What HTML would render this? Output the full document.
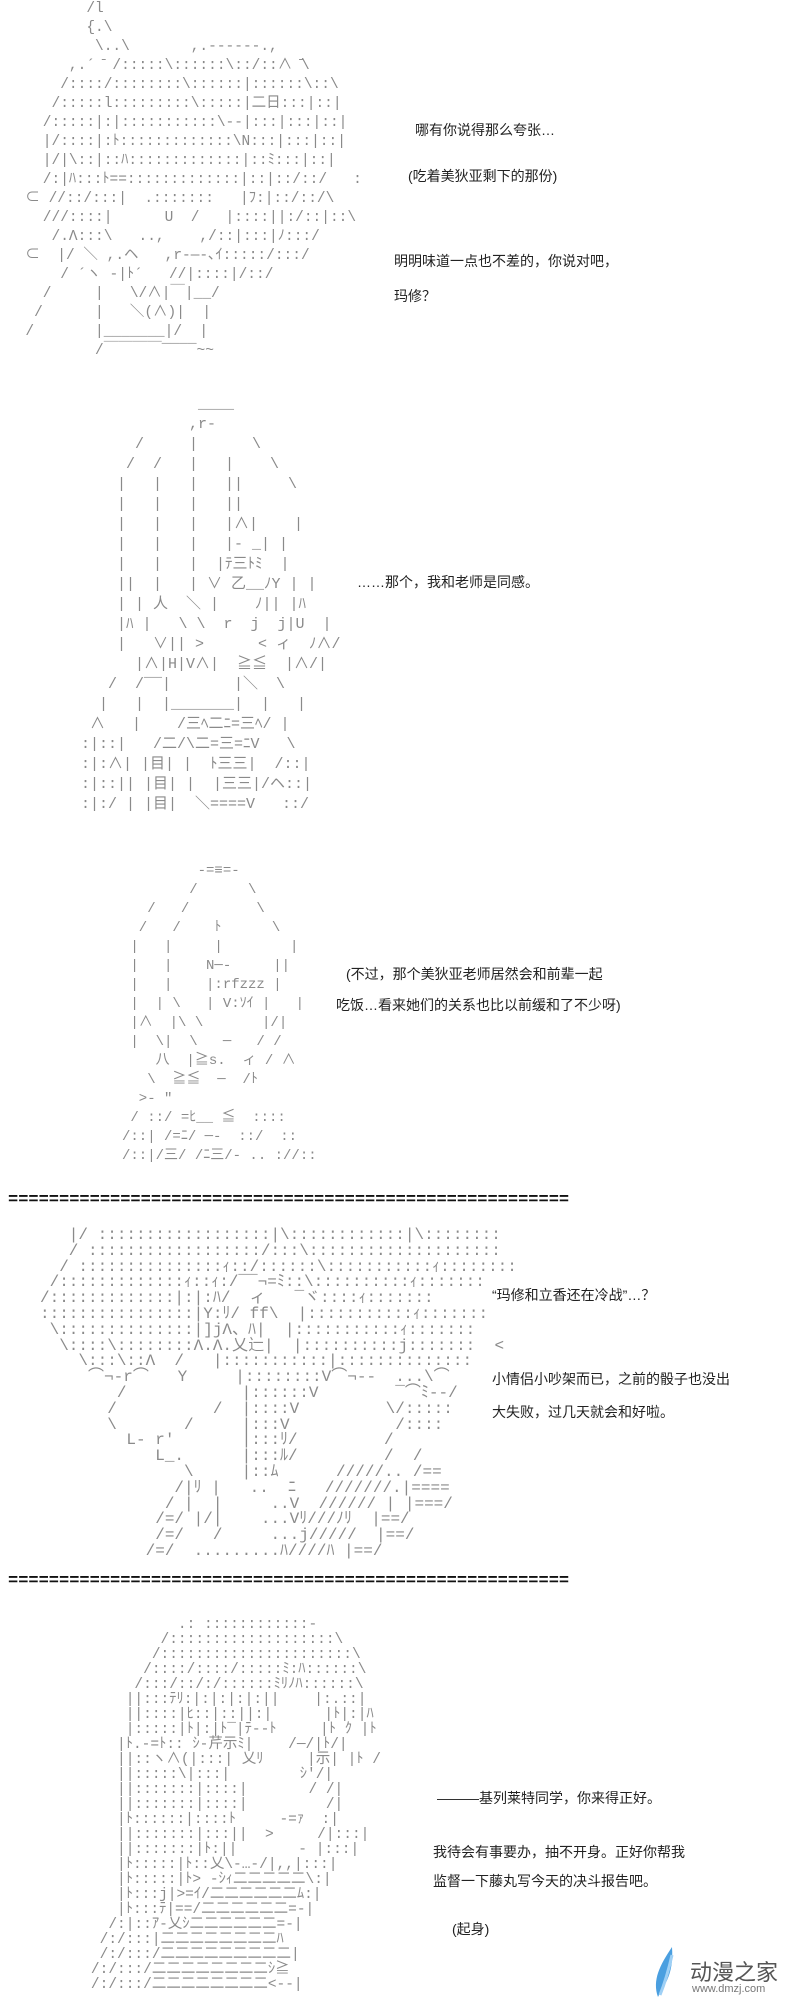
<!DOCTYPE html>
<html><head><meta charset="utf-8">
<style>
body{margin:0;width:800px;height:2000px;background:#fff;position:relative;overflow:hidden;font-family:"Liberation Sans","Noto Sans CJK SC",sans-serif}
.t{position:absolute;font-size:14px;color:#222;white-space:nowrap}
pre{position:absolute;margin:0;font-family:"Liberation Mono","Noto Sans CJK SC",monospace;font-size:13px;line-height:16px;color:#8a8a8a}
.sep{position:absolute;left:8px;font-family:"Liberation Mono",monospace;font-size:17px;font-weight:bold;color:#111;letter-spacing:0px;white-space:nowrap}
</style></head><body>

<pre style="left:8px;top:0;line-height:19px;font-size:14.5px">         /l
         {.\
          \..\       ,.------.,
       ,.´ ̄ /:::::\::::::\::/::∧ ̄\
      /::::/::::::::\::::::|::::::\::\
     /:::::l:::::::::\:::::|二日:::|::|
    /:::::|:|:::::::::::\--|:::|:::|::|
    |/::::|:ﾄ:::::::::::::\N:::|:::|::|
    |/|\::|::ﾊ:::::::::::::|::ﾐ:::|::|
    /:|ﾊ:::ﾄ==:::::::::::::|::|::/::/   :
  ⊂ //::/:::|  .:::::::   |ﾌ:|::/::/\
    ///::::|      U  /   |::::||:/::|::\
     /.Λ:::\   ..,    ,/::|:::|ﾉ:::/
  ⊂  |/ ＼ ,.ヘ   ,r‐―‐､ｲ:::::/:::/
      / ´ヽ ‐|ﾄ´   //|::::|/::/
    /     |   \/∧|￣|__/
   /      |   ＼(∧)|  |
  /       |_______|/  |
          /￣￣￣￣‾‾‾‾~~</pre>

<div class="t" style="left:415px;top:120px">哪有你说得那么夸张…</div>
<div class="t" style="left:408px;top:166px">(吃着美狄亚剩下的那份)</div>
<div class="t" style="left:394px;top:251px">明明味道一点也不差的，你说对吧，</div>
<div class="t" style="left:394px;top:286px">玛修？</div>

<pre style="left:45px;top:395px;line-height:20px;font-size:15px">                 ____
                ,r‐
          /     |      \
         /  /   |   |    \
        |   |   |   ||     \
        |   |   |   ||
        |   |   |   |∧|    |
        |   |   |   |‐ _| |
        |   |   |  |ﾃ三ﾄﾐ  |
        ||  |   | ∨ 乙__ﾉY | |
        | | 人  ＼ |    ﾉ|| |ﾊ
        |ﾊ |   \ \  r  j  j|U  |
        |   ∨|| >      < ィ  ﾉ∧/
          |∧|H|V∧|  ≧≦  |∧/|
       /  /‾‾|       |＼  \
      |   |  |_______|  |   |
     ∧   |    /三ﾍ二ﾆ=三ﾍ/ |
    :|::|   /二/\二=三=ﾆV   \
    :|:∧| |目| |  ﾄ三三|  /::|
    :|::|| |目| |  |三三|/ヘ::|
    :|:/ | |目|  ＼====V   ::/</pre>

<div class="t" style="left:357px;top:572px">……那个，我和老师是同感。</div>

<pre style="left:80px;top:862px;line-height:19px;font-size:14px">              -=≡=-
             /      \
        /   /        \
       /   /    ﾄ      \
      |   |     |        |
      |   |    N─-     ||
      |   |    |:rfzzz |
      |  | \   | V:ｿｲ |   |
      |∧  |\ \       |/|
      |  \|  \   ─   / /
         八  |≧s.  ィ / ∧
        \  ≧≦  ─  /ﾄ
       >‐ </  ‐  ﾊ‐ ‐
      ィ  / ィ  ∧  /  >"
      / ::/ =ﾋ__ ≦  ::::
     /::| /=ﾆ/ ─-  ::/  ::
     /::|/三/ /ﾆ三/‐ .. ://::</pre>

<div class="t" style="left:346px;top:964px">(不过，那个美狄亚老师居然会和前辈一起</div>
<div class="t" style="left:336px;top:995px">吃饭…看来她们的关系也比以前缓和了不少呀)</div>

<div class="sep" style="top:1191px">=======================================================</div>

<pre style="left:40px;top:1228px;line-height:15.8px;font-size:16px">   |/ ::::::::::::::::::|\::::::::::::|\::::::::
   / ::::::::::::::::::/:::\::::::::::::::::::::
  / :::::::::::::::ｨ::/::::::\:::::::::::ｨ::::::::
 /:::::::::::::ｨ::ｨ:/‾‾¬=ﾐ::\::::::::::ｨ:::::::
/:::::::::::::|:|:ﾊ/  ィ   ‾ヾ::::ｨ:::::::
::::::::::::::::|Y:ﾘ/ ff\  |:::::::::::ｨ:::::::
 \::::::::::::::|]jΛ、ﾊ|  |:::::::::::ｨ:::::::
  \::::\::::::::Λ.Λ.乂辷|  |::::::::::j:::::::  <
    \:::\::Λ  /   |:::::::::::|::::::::::::::
     ⌒¬‐r⌒   Y     |::::::::V⌒¬--  ...\⌒
        /            |::::::V        ‾⌒ﾐ--/
       /          /  |::::V         \/:::::
       \       /     |:::V           /::::
         L‐ r'       |:::ﾘ/         /
            L_.      |:::ﾙ/         /  /
               \     |::ﾑ      /////.. /==
              /|ﾘ |   ..  ﾆ   ///////.|====
             / |  |     ..V  ////// | |===/
            /=/ |/|    ...Vﾘ///ﾉﾘ  |==/
            /=/   /     ...j/////  |==/
           /=/  .........ﾊ////ﾊ |==/</pre>

<div class="t" style="left:492px;top:1285px">“玛修和立香还在冷战”…？</div>
<div class="t" style="left:492px;top:1369px">小情侣小吵架而已，之前的骰子也没出</div>
<div class="t" style="left:492px;top:1402px">大失败，过几天就会和好啦。</div>

<div class="sep" style="top:1572px">=======================================================</div>

<pre style="left:30px;top:1618px;line-height:15px;font-size:14.5px">                 .: ::::::::::::-
               /:::::::::::::::::::\
              /::::::::::::::::::::::\
             /::::/::::/:::::ﾐ:ﾊ::::::\
            /:::/::/:/::::::ﾐﾘﾉﾊ::::::\
           ||:::ﾃﾘ:|:|:|:|:||    |:.::|
           ||::::|ﾋ::|::||:|      |ﾄ|:|ﾊ
           |:::::|ﾄ|:|ﾄ‾|ﾃ-‐ﾄ     |ﾄ ｸ |ﾄ
          |ﾄ.‐=ﾄ:: ｼ‐芹示ﾐ|    /─/|ﾄ/|
          ||::ヽ∧(|:::| 乂ﾘ     |示| |ﾄ /
          ||:::::\|:::|        ｼ'/|
          ||:::::::|::::|       / /|
          ||:::::::|::::|         /|
          |ﾄ::::::|::::ﾄ     ‐=ｧ  :|
          ||:::::::|:::||  >     /|:::|
          ||:::::::|ﾄ:||       ‐ |:::|
          |ﾄ:::::|ﾄ::乂\‐…-/|,,|:::|
          |ﾄ:::::|ﾄ> -ｼｨ二二二二二\:|
          |ﾄ:::j|>=ｲ/二二二二二二ﾑ:|
          |ﾄ:::ﾃ|==/二二二二二二=-|
         /:|::ｱ-乂ｼ二二二二二二=-|
        /:/:::|二二二二二二二二ﾊ
        /:/:::/二二二二二二二二二|
       /:/:::/二二二二二二二二ｼ≧
       /:/:::/二二二二二二二二<‐‐|</pre>

<div class="t" style="left:437px;top:1788px">———基列莱特同学，你来得正好。</div>
<div class="t" style="left:433px;top:1842px">我待会有事要办，抽不开身。正好你帮我</div>
<div class="t" style="left:433px;top:1871px">监督一下藤丸写今天的决斗报告吧。</div>
<div class="t" style="left:452px;top:1919px">(起身)</div>

<svg style="position:absolute;left:650px;top:1945px" width="30" height="55"><path d="M22 2 C10 20 2 35 8 52 C14 40 24 30 22 2Z" fill="#4a9fe0"/><path d="M22 10 C18 28 14 40 10 50" stroke="#9fd0f5" stroke-width="3" fill="none"/></svg>
<div class="t" style="left:690px;top:1955px;font-size:22px;color:#555">动漫之家</div>
<div class="t" style="left:692px;top:1983px;font-size:11px;color:#777">www.dmzj.com</div>
</body></html>
